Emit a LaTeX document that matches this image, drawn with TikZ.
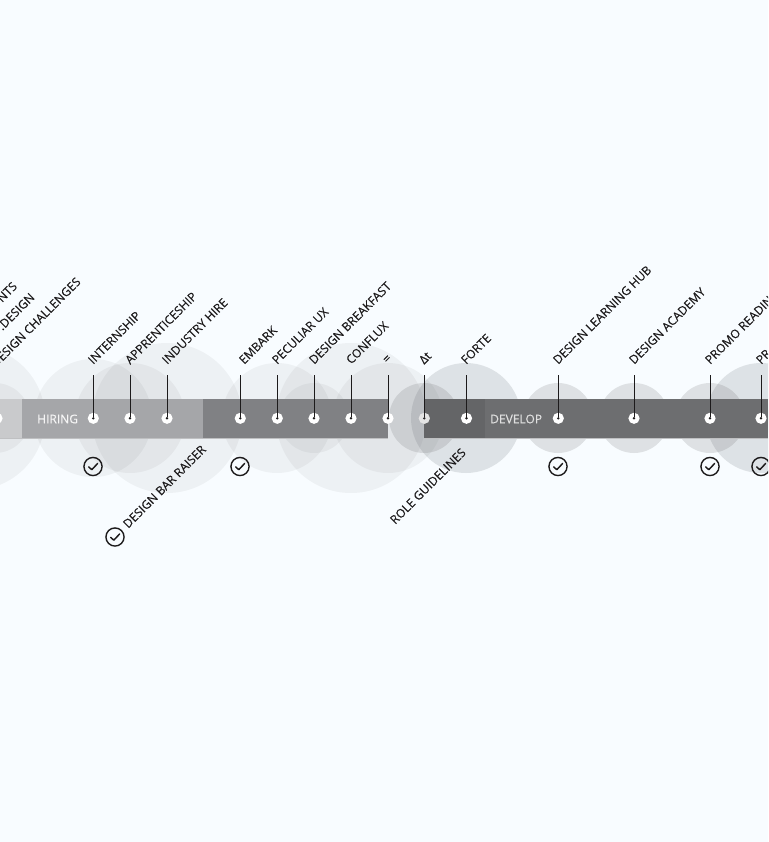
\documentclass[tikz,border=0pt]{standalone}
\usepackage{fontspec}
\setmainfont{Open Sans}
\newfontfamily\labfont[FakeBold=0.2]{Open Sans}
\definecolor{bgc}{HTML}{F8FCFF}
\definecolor{inkc}{HTML}{1C1A1B}
\definecolor{hub}{HTML}{58595B}
\definecolor{hubt}{HTML}{565E64}
\tikzset{
  x=0.75pt,y=-0.75pt,
  halo/.style={circle,inner sep=0pt,minimum size=#1*1.5pt,fill=hub,fill opacity=0.065},
  halob/.style={circle,inner sep=0pt,minimum size=#1*1.5pt,fill=hub,fill opacity=0.16},
  halot/.style={circle,inner sep=0pt,minimum size=#1*1.5pt,fill=hubt,fill opacity=0.16},
  dotw/.style={circle,fill=white,inner sep=0pt,minimum size=8.4pt},
  doti/.style={circle,fill=inkc,inner sep=0pt,minimum size=2pt},
  lead/.style={draw=inkc,line width=0.65pt},
  lab/.style={font=\labfont\fontsize{9}{10}\selectfont,text=inkc,rotate=45,inner sep=0pt},
  barlab/.style={font=\labfont\fontsize{9}{10}\selectfont,text=#1,inner sep=0pt},
  ticko/.style={circle,draw=inkc,line width=1.05pt,inner sep=0pt,minimum size=13.6pt,outer sep=0pt},
  tickm/.style={draw=inkc,line width=1.1pt,line cap=round,line join=round},
}
\newcommand{\tickat}[2]{%
  \node[ticko] (#2) at #1 {};
  \draw[tickm] ([shift={(-4.4,0.3)}]#2.center) -- ([shift={(-1.2,3.2)}]#2.center) -- ([shift={(4.6,-3)}]#2.center);
}
\begin{document}
\begin{tikzpicture}
\clip (0,0) rectangle (768,842);
\fill[bgc] (0,0) rectangle (768,842);
% halos
\node[halo=72] at (-27,418) {};
\node[halo=35] at (-5,418) {};
\node[halo=59] at (93,418) {};
\node[halo=55] at (130,418) {};
\node[halo=75] at (167,418) {};
\node[halo=55] at (277,418) {};
\node[halo=35] at (314,418) {};
\node[halo=75] at (351,418) {};
\node[halo=55] at (388,418) {};
\node[halob=35] at (424,418) {};
\node[halot=55] at (466,418) {};
\node[halob=35] at (558,418) {};
\node[halob=35] at (634,418) {};
\node[halob=35] at (710,418) {};
\node[halot=55] at (761,418) {};
\node[halob=35] at (800,418) {};
% bar
\definecolor{sa}{HTML}{C9CACC}
\definecolor{sb}{HTML}{A5A6A9}
\definecolor{sc}{HTML}{808184}
\definecolor{sd}{HTML}{646567}
\definecolor{se}{HTML}{6D6E70}
\definecolor{sf}{HTML}{BFC0C2}
\fill[sa] (-10,398.7) rectangle (22,438.5);
\fill[sb] (22,398.7) rectangle (203,438.5);
\fill[sc] (203,398.7) rectangle (388,438.5);
\fill[sd] (424,398.7) rectangle (485,438.5);
\fill[se] (485,398.7) rectangle (768,438.5);
\fill[sf] (0,438) rectangle (388,439);
\fill[sf] (424,438) rectangle (768,439);
\node[barlab=white!96!black,anchor=west] (hiring) at (37,419) {HIRING};
\node[barlab=white!88!black,anchor=west] (develop) at (490,419) {DEVELOP};
% markers
\foreach \n/\x in {a/-3,b/93.3,c/130,d/167,e/240.3,f/277.3,g/314,h/351,i/388,j/424.3,k/466.5,l/558.3,m/634,n/710,o/761}{
  \node[dotw] (w\n) at (\x,418.3) {};
  \coordinate (t\n) at (\x,375);
  \node[doti] (p\n) at (\x,418.3) {};
}
\foreach \n in {b,c,d,e,f,g,h,i,j,k,l,m,n,o}{
  \draw[lead] (t\n) -- (p\n);
}
\fill[hub,opacity=.16] (wj.center) circle (5.6);
% labels
\foreach \n/\x/\t in {b/90/INTERNSHIP,c/127/APPRENTICESHIP,d/164/INDUSTRY HIRE,e/241/EMBARK,f/274/PECULIAR UX,g/311/DESIGN BREAKFAST,h/348/CONFLUX,i/385/=,j/421/Δt,k/463/FORTE,l/555/DESIGN LEARNING HUB,m/631/DESIGN ACADEMY,n/707/PROMO READING,o/758/PR}{
  \node[lab,anchor=west] (lab\n) at (\x,362) {\t};
}
\node[lab,anchor=west] (laba) at (-7,365) {DESIGN CHALLENGES};
\node[lab,anchor=east] (labx) at (15,284) {NTS};
\node[lab,anchor=east] (laby) at (32.5,295) {.DESIGN};
\node[lab,anchor=west] (labz) at (125,526) {DESIGN BAR RAISER};
\node[lab,anchor=west] (labr) at (392,522) {ROLE GUIDELINES};
% ticks
\tickat{(93,466.5)}{c1}
\tickat{(240,466.5)}{c2}
\tickat{(558,466.5)}{c3}
\tickat{(710,466.5)}{c4}
\tickat{(761,466.5)}{c5}
\tickat{(115,537)}{c6}
\end{tikzpicture}
\end{document}
